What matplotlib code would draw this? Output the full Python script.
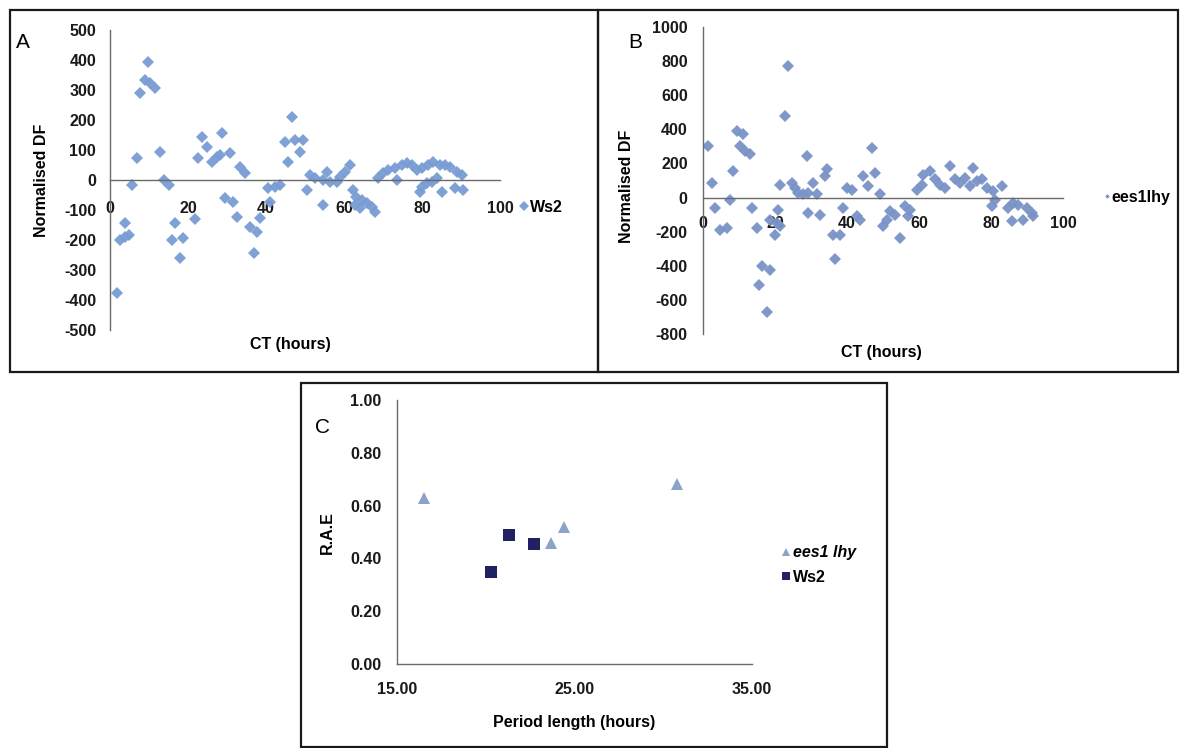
import matplotlib
matplotlib.use("Agg")
import matplotlib.pyplot as plt
from matplotlib.patches import Rectangle

plt.rcParams['font.family'] = ['Liberation Sans', 'DejaVu Sans']
plt.rcParams['axes.unicode_minus'] = False

# ---------------- Data ----------------
# Panel A: Ws2
ws2_ct = [1.7, 2.6, 3.8, 3.8, 4.9, 5.6, 6.8, 7.7, 9.0, 9.7, 10.3, 11.5, 12.8, 13.9, 15.0,
          15.8, 16.7, 17.9, 18.8, 21.8, 22.6, 23.5, 24.8, 26.1, 27.4, 28.2, 28.6, 29.5,
          30.8, 31.6, 32.5, 33.3, 34.6, 35.9, 36.8, 37.6, 38.5, 40.6, 41.0, 42.3, 43.6,
          44.9, 45.6, 46.6, 47.4, 48.7, 49.6, 50.4, 51.3, 52.6, 54.7, 54.7, 55.6, 56.4,
          58.1, 59.0, 60.3, 61.5, 62.4, 62.8, 63.2, 64.1, 64.5, 65.8, 67.1, 67.9, 68.8,
          70.1, 71.4, 73.1, 73.5, 74.8, 76.1, 77.4, 78.6, 79.5, 79.9, 79.9, 81.2, 81.6,
          82.5, 82.9, 83.8, 84.6, 85.0, 85.9, 87.2, 88.5, 88.9, 90.2, 90.6]
ws2_df = [-375, -200, -189, -144, -183, -17, 73, 290, 333, 394, 323, 307, 94, 0, -17,
          -200, -144, -260, -194, -130, 72, 144, 111, 61, 78, 83, 156, -61,
          89, -72, -122, 44, 22, -156, -244, -172, -127, -28, -72, -22, -17,
          128, 61, 211, 133, 94, 133, -33, 17, 7, 0, -83, 28, -6,
          -6, 11, 28, 50, -33, -83, -56, -94, -67, -78, -89, -106, 6,
          22, 33, 39, 0, 50, 56, 50, 33, -39, 39, -22, -11, 50,
          -6, 61, 6, 50, -39, 50, 44, -28, 28, 17, -33]

# Panel B: ees1lhy
lhy_ct = [1.5, 2.4, 3.3, 4.7, 6.6, 7.5, 8.4, 9.4, 10.3, 11.2, 11.7, 13.1, 13.5, 14.9,
          15.6, 16.3, 17.7, 18.6, 18.6, 20.0, 20.5, 20.9, 21.4, 21.4, 22.8, 23.7, 24.6,
          25.6, 26.5, 27.9, 28.8, 29.3, 29.3, 30.6, 31.6, 32.5, 33.9, 34.4, 36.2, 36.7,
          38.1, 39.0, 39.9, 41.3, 42.7, 43.6, 44.5, 45.9, 46.9, 47.8, 49.2, 50.1, 51.0,
          51.9, 53.3, 54.7, 56.1, 57.0, 57.5, 59.4, 60.7, 61.2, 63.1, 64.4, 65.8, 67.2,
          68.6, 70.0, 71.4, 72.8, 74.2, 75.1, 76.0, 77.4, 78.8, 80.2, 80.6, 81.1, 83.0,
          84.8, 85.8, 86.2, 87.6, 89.0, 89.9, 91.3, 91.8]
lhy_df = [302, 86, -61, -188, -178, -12, 155, 390, 302, 371, 272, 253, -61, -178,
          -512, -404, -669, -129, -424, -218, -149, -71, -169, 76, 478, 772, 86,
          57, 28, 18, 243, 28, -90, 86, 18, -100, 125, 165, -218, -361,
          -218, -61, 57, 47, -110, -129, 125, 67, 292, 145, 18, -169, -129,
          -80, -100, -237, -51, -110, -71, 47, 76, 135, 155, 106, 76, 57,
          184, 106, 86, 116, 67, 175, 96, 106, 57, -51, 37, -12, 67,
          -61, -139, -31, -41, -129, -61, -90, -110]

# Panel C: period length vs R.A.E
c_lhy_period = [16.5, 23.7, 24.4, 30.8]
c_lhy_rae = [0.63, 0.46, 0.52, 0.68]
c_ws2_period = [20.3, 21.3, 22.7]
c_ws2_rae = [0.35, 0.49, 0.455]

a_xticks = [0, 20, 40, 60, 80, 100]
a_yticks = list(range(-500, 501, 100))
b_yticks = list(range(-800, 1001, 200))
c_xticks = [15, 25, 35]
c_yticks = [0.0, 0.2, 0.4, 0.6, 0.8, 1.0]

# ---------------- Figure ----------------
W, H = 1180, 748
fig = plt.figure(figsize=(W / 100, H / 100), dpi=100)
fig.patch.set_facecolor('white')

def fx(px):
    return px / W

def fy(py):
    return 1 - py / H

AX_COL = '#6a6a6a'
TFS = 11.5

def frame(x0, y0, x1, y1):
    fig.add_artist(Rectangle((fx(x0), fy(y1)), fx(x1) - fx(x0), fy(y0) - fy(y1),
                             transform=fig.transFigure, fill=False,
                             edgecolor='#1a1a1a', linewidth=1.6))

frame(10, 10, 598, 372)
frame(598, 10, 1178, 372)
frame(301, 383, 887, 747)

def style(ax, xpad, ypad, cross_zero=True):
    for s in ['top', 'right']:
        ax.spines[s].set_visible(False)
    ax.spines['left'].set_color(AX_COL)
    ax.spines['bottom'].set_color(AX_COL)
    ax.spines['left'].set_linewidth(1.0)
    ax.spines['bottom'].set_linewidth(1.0)
    if cross_zero:
        ax.spines['bottom'].set_position(('data', 0))
    ax.tick_params(axis='both', length=0)
    ax.tick_params(axis='x', pad=xpad)
    ax.tick_params(axis='y', pad=ypad)
    for lab in ax.get_xticklabels() + ax.get_yticklabels():
        lab.set_fontweight('bold')
        lab.set_fontsize(TFS)
        lab.set_color('#1a1a1a')
    ax.set_facecolor('none')

# Panel A
axA = fig.add_axes([fx(110), fy(330), fx(500) - fx(110), fy(30) - fy(330)])
axA.plot(ws2_ct, ws2_df, linestyle='none', marker='D', markersize=6,
         color='#789cd3', markeredgewidth=0, label='Ws2', alpha=0.95)
axA.set_xlim(0, 100)
axA.set_ylim(-500, 500)
axA.set_xticks(a_xticks)
axA.set_yticks(a_yticks)
style(axA, 15, 10)
axA.set_ylabel('Normalised DF', fontsize=TFS, fontweight='bold')
axA.yaxis.set_label_coords((49 - 110) / 390, 0.5)
axA.text((290 - 110) / 390, (330 - 345) / 300, 'CT (hours)', transform=axA.transAxes,
         ha='center', va='center', fontsize=TFS, fontweight='bold')
axA.legend(loc='center left', bbox_to_anchor=(1.01, 0.41), frameon=False,
           handletextpad=0.05, handlelength=0.7, markerscale=0.8,
           prop={'weight': 'bold', 'size': TFS})
fig.text(fx(23), fy(42), 'A', fontsize=15, ha='center', va='center')

# Panel B
axB = fig.add_axes([fx(703), fy(334), fx(1063) - fx(703), fy(27) - fy(334)])
axB.plot(lhy_ct, lhy_df, linestyle='none', marker='D', markersize=6,
         color='#7993c6', markeredgewidth=0, label='ees1lhy', alpha=0.95)
axB.set_xlim(0, 100)
axB.set_ylim(-800, 1000)
axB.set_xticks(a_xticks)
axB.set_yticks(b_yticks)
style(axB, 13, 11)
axB.set_ylabel('Normalised DF', fontsize=TFS, fontweight='bold')
axB.yaxis.set_label_coords((634 - 703) / 360, 0.48)
axB.text((881 - 703) / 360, (334 - 352) / 307, 'CT (hours)', transform=axB.transAxes,
         ha='center', va='center', fontsize=TFS, fontweight='bold')
axB.legend(loc='center left', bbox_to_anchor=(1.07, 0.446), frameon=False,
           handletextpad=0.05, handlelength=0.5, markerscale=0.4,
           prop={'weight': 'bold', 'size': TFS})
fig.text(fx(635), fy(43), 'B', fontsize=15, ha='center', va='center')

# Panel C
axC = fig.add_axes([fx(397), fy(664), fx(752) - fx(397), fy(400) - fy(664)])
axC.plot(c_lhy_period, c_lhy_rae, linestyle='none', marker='^', markersize=8,
         color='#8ca3c9', markeredgewidth=0, label='ees1 lhy')
axC.plot(c_ws2_period, c_ws2_rae, linestyle='none', marker='s', markersize=9,
         color='#1f2163', markeredgewidth=0, label='Ws2')
axC.set_xlim(15, 35)
axC.set_ylim(0, 1.0)
axC.set_xticks(c_xticks)
axC.set_xticklabels(['%.2f' % v for v in c_xticks])
axC.set_yticks(c_yticks)
axC.set_yticklabels(['%.2f' % v for v in c_yticks])
style(axC, 13, 11, cross_zero=False)
axC.set_ylabel('R.A.E', fontsize=TFS, fontweight='bold')
axC.yaxis.set_label_coords((335 - 397) / 355, 0.496)
axC.text(0.5, (664 - 723) / 264, 'Period length (hours)', transform=axC.transAxes,
         ha='center', va='center', fontsize=TFS, fontweight='bold')
legC = axC.legend(loc='center left', bbox_to_anchor=(1.04, 0.375), frameon=False,
                  handletextpad=0.05, handlelength=0.7, markerscale=0.7,
                  labelspacing=0.6, prop={'weight': 'bold', 'size': TFS})
legC.get_texts()[0].set_fontstyle('italic')
fig.text(fx(323), fy(428), 'C', fontsize=15, ha='center', va='center')

fig.savefig('out.png', dpi=100, facecolor='white')
